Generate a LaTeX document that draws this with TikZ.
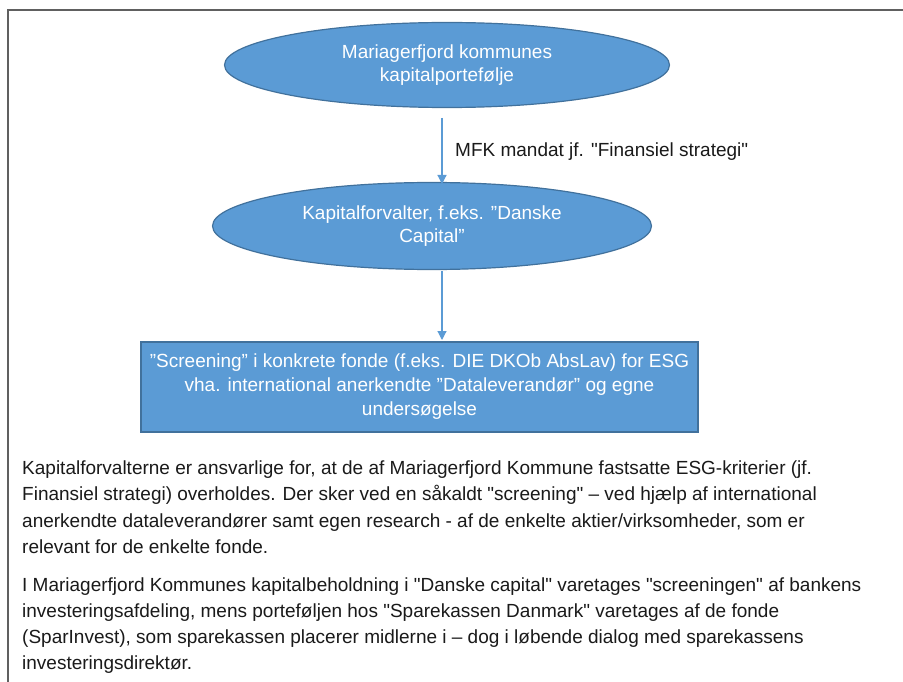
\documentclass[tikz,border=0pt]{standalone}
\usepackage{fontspec}
\setmainfont{Liberation Sans}
\newfontfamily\plainarial{Liberation Sans}
\usetikzlibrary{shapes.geometric,arrows.meta}
\definecolor{boxblue}{HTML}{5B9BD5}
\definecolor{boxedge}{HTML}{41719C}
\definecolor{framegray}{HTML}{606060}
\definecolor{textgray}{HTML}{1A1A1A}
\begin{document}
\begin{tikzpicture}[x=1pt,y=-1pt,
  blueell/.style={ellipse,fill=boxblue,draw=boxedge,line width=1.2pt,text=white,align=center,inner sep=0pt,font=\fontsize{19}{23}\selectfont},
  bluerect/.style={rectangle,fill=boxblue,draw=boxedge,line width=1.6pt,text=white,align=center,inner sep=0pt,font=\fontsize{19}{24}\selectfont},
  flow/.style={draw=boxblue,line width=1.2pt,-{Triangle[length=9pt,width=9pt]}},
  paraline/.style={anchor=base west,inner sep=0pt,text=textgray,font=\plainarial\fontsize{19}{26}\selectfont},
]
\useasboundingbox (0,0) rectangle (903,682);
\fill[white] (0,0) rectangle (903,682);
\draw[framegray,line width=2pt] (8,682) -- (8,10) -- (903,10);

\node[blueell,minimum width=445pt,minimum height=85pt] (e1) at (447,65) {Mariagerfjord kommunes\\kapitalportefølje};
\node[blueell,minimum width=439pt,minimum height=87pt] (e2) at (432,226) {Kapitalforvalter, f.eks. ”Danske\\Capital”};
\node[bluerect,minimum width=557pt,minimum height=90pt] (r) at (419.5,387) {”Screening” i konkrete fonde (f.eks. DIE DKOb AbsLav) for ESG\\vha. international anerkendte ”Dataleverandør” og egne\\undersøgelse};

\coordinate (a1s) at (442,118);
\coordinate (a1e) at (442,184);
\coordinate (a2s) at (442,271);
\coordinate (a2e) at (442,340);
\draw[flow] (a1s) -- (a1e);
\draw[flow] (a2s) -- (a2e);
\node[anchor=west,inner sep=0pt,text=textgray,font=\plainarial\fontsize{19}{23}\selectfont] (lab) at (455,152) {MFK mandat jf. "Finansiel strategi"};

\node[paraline] (p1) at (22,474) {Kapitalforvalterne er ansvarlige for, at de af Mariagerfjord Kommune fastsatte ESG-kriterier (jf.};
\node[paraline] (p2) at (22,500) {Finansiel strategi) overholdes. Der sker ved en såkaldt "screening" – ved hjælp af international};
\node[paraline] (p3) at (22,527) {anerkendte dataleverandører samt egen research - af de enkelte aktier/virksomheder, som er};
\node[paraline] (p4) at (22,553) {relevant for de enkelte fonde.};
\node[paraline] (q1) at (22,591) {I Mariagerfjord Kommunes kapitalbeholdning i "Danske capital" varetages "screeningen" af bankens};
\node[paraline] (q2) at (22,617) {investeringsafdeling, mens porteføljen hos "Sparekassen Danmark" varetages af de fonde};
\node[paraline] (q3) at (22,643) {(SparInvest), som sparekassen placerer midlerne i – dog i løbende dialog med sparekassens};
\node[paraline] (q4) at (22,669) {investeringsdirektør.};
\end{tikzpicture}
\end{document}
